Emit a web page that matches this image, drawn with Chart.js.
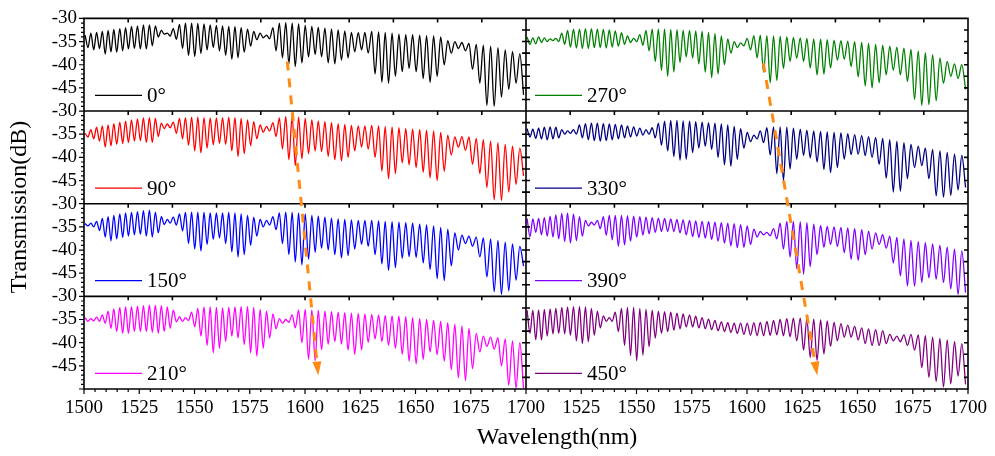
<!DOCTYPE html>
<html>
<head>
<meta charset="utf-8">
<title>Transmission spectra vs. twist angle</title>
<script src="https://cdn.jsdelivr.net/npm/chart.js@4.4.1/dist/chart.umd.min.js"></script>
<style>
  html, body { margin: 0; padding: 0; background: #fff; }
  #wrap { width: 995px; height: 456px; position: relative; }
</style>
</head>
<body>
<div id="wrap"><canvas id="spectra"></canvas></div>
<script>
// fringe extrema (nm): a peak then the following dip, shared by all traces
const PEAK_NM = [
  1500.5, 1503.1, 1505.7, 1508.3, 1510.9, 1513.5, 1516.2, 1518.8, 1521.5, 1524.2,
  1526.9, 1529.6, 1532.3, 1535.0, 1537.7, 1540.4, 1543.2, 1545.9, 1548.7, 1551.5,
  1554.3, 1557.1, 1559.9, 1562.7, 1565.5, 1568.3, 1571.1, 1574.0, 1576.8, 1579.7,
  1582.6, 1585.5, 1588.4, 1591.3, 1594.2, 1597.1, 1600.1, 1603.1, 1606.0, 1609.0,
  1612.0, 1615.0, 1618.0, 1621.0, 1624.1, 1627.1, 1630.2, 1633.3, 1636.3, 1639.4,
  1642.5, 1645.6, 1648.7, 1651.9, 1655.0, 1658.2, 1661.4, 1664.6, 1667.8, 1671.0,
  1674.2, 1677.5, 1680.7, 1684.0, 1687.3, 1690.6, 1693.9, 1697.2
];
const DIP_NM = [
  1501.8, 1504.4, 1507.0, 1509.6, 1512.2, 1514.8, 1517.5, 1520.1, 1522.8, 1525.5,
  1528.2, 1530.9, 1533.6, 1536.3, 1539.0, 1541.8, 1544.6, 1547.3, 1550.1, 1552.9,
  1555.7, 1558.5, 1561.3, 1564.1, 1566.9, 1569.7, 1572.5, 1575.4, 1578.2, 1581.1,
  1584.0, 1586.9, 1589.8, 1592.7, 1595.6, 1598.6, 1601.6, 1604.6, 1607.5, 1610.5,
  1613.5, 1616.5, 1619.5, 1622.5, 1625.6, 1628.6, 1631.7, 1634.8, 1637.8, 1640.9,
  1644.0, 1647.1, 1650.3, 1653.5, 1656.6, 1659.8, 1663.0, 1666.2, 1669.4, 1672.6,
  1675.8, 1679.1, 1682.3, 1685.6, 1688.9, 1692.2, 1695.5, 1698.9
];

// transmission (dB) at each peak / dip
const top0 = [
  -33.6, -33.2, -33.0, -32.8, -32.6, -32.4, -32.2, -32.0, -31.7, -31.6,
  -31.4, -31.4, -31.6, -32.6, -33.2, -32.2, -31.3, -31.0, -31.0, -31.1,
  -31.2, -31.4, -31.5, -31.6, -31.7, -31.8, -32.0, -32.3, -32.8, -33.2,
  -33.6, -32.0, -31.0, -30.9, -31.0, -31.2, -31.5, -31.7, -31.9, -32.1,
  -32.3, -32.5, -32.7, -33.0, -33.1, -33.0, -32.8, -32.9, -33.0, -33.2,
  -33.4, -33.5, -33.5, -33.6, -33.7, -33.8, -34.0, -34.8, -35.0, -35.2,
  -35.4, -35.6, -35.8, -36.0, -36.3, -36.8, -37.2, -37.6
];
const dip0 = [
  -36.3, -36.8, -36.5, -37.7, -37.2, -37.3, -37.0, -36.6, -36.5, -36.6,
  -36.6, -35.9, -34.0, -33.4, -33.8, -34.5, -36.5, -38.0, -38.2, -37.6,
  -36.8, -36.3, -37.0, -38.0, -38.8, -38.5, -37.3, -36.0, -34.6, -34.2,
  -34.4, -37.0, -38.5, -39.8, -40.4, -39.6, -38.3, -37.8, -38.3, -39.6,
  -39.8, -39.0, -38.5, -37.2, -36.8, -37.5, -42.0, -43.8, -44.0, -42.5,
  -41.5, -40.8, -41.5, -43.0, -43.8, -42.5, -40.0, -37.5, -36.5, -37.0,
  -41.0, -44.0, -48.8, -49.0, -47.0, -45.3, -44.0, -46.5
];
const top90 = [
  -34.8, -34.0, -33.5, -33.2, -33.0, -32.7, -32.4, -32.2, -31.9, -31.7,
  -31.5, -31.4, -31.6, -32.6, -32.8, -32.4, -31.6, -31.4, -31.3, -31.3,
  -31.4, -31.5, -31.5, -31.4, -31.3, -31.4, -31.6, -31.9, -32.3, -33.0,
  -33.3, -32.5, -31.5, -31.2, -31.1, -31.3, -31.6, -31.9, -32.1, -32.3,
  -32.5, -32.7, -32.9, -33.1, -33.2, -33.2, -33.1, -33.2, -33.3, -33.4,
  -33.6, -33.8, -33.9, -34.0, -34.1, -34.3, -34.6, -35.2, -35.6, -35.5,
  -35.6, -35.9, -36.2, -36.5, -36.8, -37.2, -37.6, -38.0
];
const dip90 = [
  -35.6, -36.0, -36.5, -37.8, -37.5, -37.2, -37.0, -36.8, -36.5, -36.4,
  -36.8, -36.8, -35.5, -33.8, -33.6, -34.8, -36.0, -37.4, -38.6, -39.0,
  -38.0, -37.3, -37.0, -37.2, -38.6, -39.8, -39.2, -37.5, -36.0, -34.6,
  -34.3, -35.5, -38.2, -40.5, -41.8, -40.3, -39.2, -38.6, -38.8, -39.8,
  -40.5, -40.8, -40.0, -38.6, -37.8, -38.2, -40.0, -43.0, -44.6, -43.5,
  -41.2, -41.6, -42.2, -43.2, -44.4, -45.0, -43.0, -39.5, -37.8, -38.5,
  -41.5, -43.5, -46.5, -49.2, -49.3, -47.5, -45.8, -44.0
];
const top150 = [
  -34.3, -34.2, -33.8, -33.2, -32.8, -32.5, -32.2, -32.0, -31.9, -31.7,
  -31.5, -31.4, -31.8, -32.8, -33.4, -32.9, -32.2, -31.9, -31.8, -31.8,
  -31.9, -32.0, -32.0, -32.0, -31.9, -32.0, -32.2, -32.5, -32.9, -33.4,
  -33.6, -32.8, -32.0, -31.8, -31.9, -32.0, -32.2, -32.5, -32.7, -32.9,
  -33.1, -33.3, -33.4, -33.5, -33.6, -33.6, -33.6, -33.7, -33.8, -33.9,
  -34.0, -34.1, -34.2, -34.4, -34.6, -34.8, -35.1, -35.5, -36.3, -36.8,
  -37.0, -37.2, -37.4, -37.6, -37.9, -38.3, -38.7, -39.2
];
const dip150 = [
  -34.8, -35.0, -35.8, -37.2, -38.0, -37.6, -37.3, -37.0, -36.7, -36.6,
  -37.0, -37.2, -36.3, -34.5, -34.2, -34.6, -35.9, -38.6, -39.8, -40.2,
  -38.8, -37.7, -37.4, -38.6, -40.4, -41.5, -41.0, -39.0, -37.0, -35.0,
  -34.6, -35.6, -38.6, -41.0, -42.6, -43.2, -42.0, -40.5, -39.6, -40.0,
  -41.0, -41.7, -41.2, -39.8, -38.8, -39.2, -41.0, -43.0, -44.4, -43.8,
  -41.8, -41.4, -41.6, -42.8, -44.2, -46.2, -46.6, -43.4, -40.0, -38.6,
  -39.2, -41.5, -45.8, -49.0, -49.6, -48.8, -46.5, -43.5
];
const top210 = [
  -34.6, -34.8, -34.5, -34.0, -33.2, -32.7, -32.4, -32.3, -32.2, -32.1,
  -32.0, -31.9, -31.9, -32.0, -32.3, -33.0, -34.4, -34.6, -33.4, -32.6,
  -32.3, -32.3, -32.4, -32.5, -32.4, -32.3, -32.2, -32.2, -32.4, -32.8,
  -33.2, -33.8, -34.8, -35.0, -34.0, -33.0, -32.8, -32.9, -33.0, -33.2,
  -33.3, -33.4, -33.5, -33.6, -33.7, -33.8, -33.9, -34.0, -34.1, -34.2,
  -34.3, -34.4, -34.6, -34.8, -35.0, -35.2, -35.4, -35.7, -36.0, -36.4,
  -36.9, -38.0, -38.6, -38.8, -38.9, -39.2, -39.6, -40.0
];
const dip210 = [
  -35.4, -35.3, -35.4, -35.8, -36.9, -37.6, -38.0, -38.0, -37.6, -37.6,
  -37.6, -37.8, -38.0, -37.6, -36.9, -35.5, -35.4, -35.2, -36.6, -38.6,
  -40.6, -42.2, -41.2, -39.7, -38.6, -39.0, -40.4, -42.2, -42.9, -41.2,
  -39.0, -37.0, -35.8, -35.6, -36.8, -40.0, -43.6, -43.9, -41.5, -40.3,
  -39.8, -40.3, -41.6, -42.5, -41.6, -40.0, -39.2, -39.8, -40.6, -41.2,
  -42.5, -44.0, -44.6, -43.6, -42.0, -42.6, -44.0, -45.8, -47.6, -48.2,
  -45.6, -42.0, -40.8, -41.4, -45.0, -49.2, -49.8, -49.9
];
const top270 = [
  -34.0, -34.2, -34.0, -34.2, -34.4, -34.3, -33.2, -32.6, -32.4, -32.3,
  -32.2, -32.2, -32.3, -32.4, -32.5, -32.7, -33.1, -33.8, -34.3, -33.5,
  -32.6, -32.3, -32.3, -32.3, -32.4, -32.5, -32.6, -32.6, -32.7, -32.8,
  -33.0, -33.3, -33.8, -34.4, -35.0, -35.3, -34.3, -33.7, -33.6, -33.7,
  -33.8, -33.9, -34.0, -34.1, -34.2, -34.3, -34.4, -34.5, -34.6, -34.7,
  -34.8, -34.9, -35.0, -35.2, -35.4, -35.6, -35.8, -36.0, -36.2, -36.4,
  -36.7, -37.0, -37.4, -37.8, -38.6, -39.3, -39.8, -40.0
];
const dip270 = [
  -35.6, -35.5, -35.2, -35.0, -34.8, -35.0, -35.6, -36.2, -36.4, -36.5,
  -36.5, -36.3, -36.3, -36.4, -36.2, -36.0, -35.6, -35.2, -35.0, -35.8,
  -37.0, -39.3, -41.2, -42.5, -41.6, -39.5, -38.3, -38.6, -39.8, -41.6,
  -42.8, -42.0, -40.0, -37.5, -36.3, -35.9, -36.8, -38.5, -41.6, -43.9,
  -43.4, -40.8, -39.3, -38.6, -39.3, -40.7, -42.2, -42.0, -40.7, -39.0,
  -38.8, -40.4, -42.6, -44.6, -45.0, -43.9, -42.2, -41.2, -42.2, -43.6,
  -47.5, -48.8, -48.6, -47.8, -44.0, -42.5, -43.0, -45.3
];
const top330 = [
  -33.8, -33.9, -33.7, -33.5, -33.4, -33.5, -34.0, -34.3, -34.0, -33.0,
  -32.7, -32.6, -32.6, -32.7, -32.8, -32.9, -33.0, -33.2, -33.4, -33.7,
  -34.0, -33.6, -32.6, -32.2, -32.0, -32.0, -32.1, -32.2, -32.3, -32.4,
  -32.5, -32.6, -32.8, -33.0, -33.3, -33.8, -34.6, -35.2, -34.3, -33.6,
  -33.4, -33.4, -33.5, -33.7, -33.9, -34.1, -34.3, -34.4, -34.5, -34.6,
  -34.7, -34.9, -35.1, -35.3, -35.5, -35.7, -35.9, -36.2, -36.5, -36.8,
  -37.2, -37.6, -38.0, -38.3, -38.6, -38.9, -39.3, -39.6
];
const dip330 = [
  -35.6, -35.9, -36.0, -36.2, -36.0, -35.8, -35.0, -34.8, -35.0, -35.8,
  -36.2, -36.4, -36.5, -36.4, -36.2, -36.0, -35.8, -35.6, -35.4, -35.2,
  -35.0, -35.8, -37.4, -38.6, -39.8, -40.6, -40.4, -39.0, -38.0, -37.6,
  -38.3, -40.0, -41.6, -41.9, -40.4, -38.0, -36.6, -36.0, -36.8, -39.5,
  -43.5, -45.0, -42.5, -40.4, -39.6, -40.1, -41.0, -42.6, -43.3, -42.2,
  -40.4, -39.4, -39.3, -39.6, -40.0, -41.5, -44.5, -47.5, -47.3, -44.6,
  -42.2, -41.8, -44.6, -48.3, -48.6, -48.2, -47.0, -46.5
];
const top390 = [
  -33.2, -33.3, -33.2, -33.0, -32.7, -32.4, -32.1, -32.0, -32.2, -32.8,
  -33.6, -34.0, -33.6, -32.8, -32.5, -32.5, -32.5, -32.6, -32.7, -32.8,
  -32.9, -33.0, -33.1, -33.2, -33.3, -33.4, -33.5, -33.6, -33.7, -33.8,
  -33.9, -34.0, -34.1, -34.2, -34.3, -34.5, -34.8, -35.5, -36.0, -36.2,
  -35.4, -34.2, -33.8, -33.8, -33.9, -34.1, -34.4, -34.7, -34.9, -35.0,
  -35.1, -35.2, -35.4, -35.6, -35.9, -36.3, -36.7, -37.0, -37.3, -37.6,
  -37.9, -38.2, -38.4, -38.7, -39.0, -39.4, -39.8, -40.2
];
const dip390 = [
  -37.1, -36.2, -36.7, -37.0, -37.2, -37.6, -38.2, -38.5, -38.0, -37.0,
  -34.8, -34.6, -35.4, -36.8, -37.8, -39.2, -38.9, -38.1, -37.2, -36.8,
  -36.5, -36.2, -36.0, -36.0, -36.0, -36.3, -36.7, -37.1, -37.3, -37.4,
  -37.7, -38.1, -38.5, -39.1, -39.5, -39.4, -38.8, -37.2, -36.7, -36.9,
  -37.6, -39.8, -41.5, -44.0, -45.2, -43.6, -41.0, -39.4, -38.8, -39.2,
  -40.6, -42.0, -42.2, -41.0, -39.8, -38.8, -39.6, -42.8, -45.6, -47.8,
  -47.8, -47.0, -46.0, -46.3, -47.0, -48.4, -49.6, -49.2
];
const top450 = [
  -33.0, -33.0, -32.9, -32.8, -32.7, -32.6, -32.4, -32.3, -32.2, -32.2,
  -32.3, -32.6, -33.2, -34.2, -34.6, -33.4, -32.6, -32.4, -32.4, -32.6,
  -32.8, -33.0, -33.2, -33.3, -33.4, -33.6, -33.8, -34.0, -34.3, -34.6,
  -34.9, -35.2, -35.5, -35.7, -35.8, -35.8, -35.8, -35.7, -35.6, -35.4,
  -35.2, -35.0, -34.8, -34.7, -34.7, -34.8, -34.9, -35.1, -35.3, -35.6,
  -35.9, -36.2, -36.5, -36.8, -37.0, -37.2, -37.4, -38.2, -38.6, -38.3,
  -38.2, -38.3, -38.5, -38.8, -39.1, -39.4, -39.8, -40.2
];
const dip450 = [
  -38.0, -39.4, -39.4, -38.6, -38.1, -38.0, -38.1, -38.4, -39.6, -40.2,
  -39.8, -38.4, -36.8, -35.4, -35.4, -37.6, -40.6, -42.8, -43.9, -42.7,
  -40.9, -39.0, -38.0, -37.6, -37.3, -37.0, -36.6, -36.6, -36.8, -37.0,
  -37.2, -37.4, -37.6, -37.8, -38.0, -38.2, -38.4, -38.5, -38.5, -38.4,
  -38.3, -38.5, -38.7, -39.6, -41.6, -43.2, -43.8, -42.4, -40.8, -39.6,
  -38.8, -38.8, -39.4, -40.2, -40.6, -40.6, -40.2, -39.6, -39.8, -40.6,
  -41.6, -45.4, -47.5, -48.4, -49.6, -48.9, -47.2, -49.0
];

const ANGLE_LABELS = ["0°", "90°", "150°", "210°", "270°", "330°", "390°", "450°"];
const COLORS = ["#000000", "#ff0000", "#0000ff", "#ff00ff", "#008000", "#000080", "#8000ff", "#800080"];
const SERIES = [
  [top0, dip0], [top90, dip90], [top150, dip150], [top210, dip210],
  [top270, dip270], [top330, dip330], [top390, dip390], [top450, dip450]
];

// dip-shift guides: [wavelength, dB, row] at tail and head
const SHIFT_ARROWS = [
  { col: 0, tail: [1592, -39.3, 0], head: [1606, -47.1, 3] },
  { col: 1, tail: [1607.4, -39.7, 0], head: [1631.8, -47.1, 3] }
];
const ORANGE = "#ff8a14";

const SERIF = "'Liberation Serif', 'Times New Roman', serif";
Chart.defaults.font.family = SERIF;
Chart.defaults.color = "#000";

function spectrum(tops, dips) {
  const pts = [];
  PEAK_NM.forEach((nm, k) => {
    pts.push({ x: nm, y: tops[k] });
    pts.push({ x: DIP_NM[k], y: dips[k] });
  });
  return pts;
}

function rowScale(row) {
  return {
    type: "linear", axis: "y", position: "left",
    stack: "rows", stackWeight: 1, weight: 4 - row,
    min: -50, max: -30,
    grid: { display: false, drawTicks: false },
    border: { display: false },
    ticks: {
      stepSize: 5, padding: 7, autoSkip: false,
      font: { size: 19 },
      callback: v => (v === -50 ? "" : v)
    },
    afterFit: s => { s.width = 84; }
  };
}

function colScale(col) {
  return {
    type: "linear", axis: "x", position: "bottom",
    stack: "cols", stackWeight: 1,
    min: 1500, max: 1700,
    grid: { display: false, drawTicks: false },
    border: { display: false },
    ticks: {
      stepSize: 25, padding: 8, autoSkip: false, maxRotation: 0,
      font: { size: 19 },
      callback: v => (col === 1 && v === 1500 ? "" : v)
    },
    afterFit: s => { s.height = 67; }
  };
}

// frames, tick marks, legends, axis titles and the shift arrows
const panelDecor = {
  id: "panelDecor",
  afterDatasetsDraw(chart) {
    const { ctx } = chart;
    const cols = [chart.scales.xL, chart.scales.xR];
    const rows = ["y0", "y1", "y2", "y3"].map(id => chart.scales[id]);
    ctx.save();

    ctx.strokeStyle = "#000";
    ctx.lineWidth = 1.6;
    ctx.beginPath();
    cols.forEach((xs, c) => rows.forEach(ys => {
      ctx.rect(xs.left, ys.top, xs.right - xs.left, ys.bottom - ys.top);
      for (let v = 1520; v < 1700; v += 20) {
        const x = xs.getPixelForValue(v);
        ctx.moveTo(x, ys.top);
        ctx.lineTo(x, ys.top + 4);
      }
      for (let v = -47.5; v <= -32.5; v += 2.5) {
        const y = ys.getPixelForValue(v);
        if (c === 1) {
          ctx.moveTo(xs.left, y);
          ctx.lineTo(xs.left + 4, y);
        }
        ctx.moveTo(xs.right, y);
        ctx.lineTo(xs.right - 4, y);
      }
    }));
    ctx.stroke();

    ctx.lineWidth = 1.2;
    ctx.beginPath();
    rows.forEach(ys => {
      for (let v = -50; v <= -30; v++) {
        const y = ys.getPixelForValue(v);
        const len = v % 5 === 0 ? 5 : 3;
        ctx.moveTo(cols[0].left - len, y);
        ctx.lineTo(cols[0].left, y);
      }
    });
    const base = rows[3].bottom;
    cols.forEach(xs => {
      for (let v = 1500; v <= 1700; v += 5) {
        const x = xs.getPixelForValue(v);
        const len = v % 25 === 0 ? 5 : 3;
        ctx.moveTo(x, base);
        ctx.lineTo(x, base + len);
      }
    });
    ctx.stroke();

    // legend sample + angle in the lower-left of every panel
    ctx.font = "21px " + SERIF;
    ctx.textAlign = "left";
    ctx.textBaseline = "middle";
    chart.data.datasets.forEach(ds => {
      const xs = chart.scales[ds.xAxisID];
      const ys = chart.scales[ds.yAxisID];
      const x0 = xs.left + (ds.xAxisID === "xL" ? 11 : 9);
      const y = ys.top + 77;
      ctx.strokeStyle = ds.borderColor;
      ctx.lineWidth = 1.3;
      ctx.beginPath();
      ctx.moveTo(x0, y);
      ctx.lineTo(x0 + 47, y);
      ctx.stroke();
      ctx.fillStyle = "#000";
      ctx.fillText(ds.label, x0 + 52, y + 1);
    });

    SHIFT_ARROWS.forEach(a => {
      const xs = cols[a.col];
      const x1 = xs.getPixelForValue(a.tail[0]);
      const y1 = rows[a.tail[2]].getPixelForValue(a.tail[1]);
      const x2 = xs.getPixelForValue(a.head[0]);
      const y2 = rows[a.head[2]].getPixelForValue(a.head[1]);
      const ang = Math.atan2(y2 - y1, x2 - x1);
      const bx = x2 - 14 * Math.cos(ang);
      const by = y2 - 14 * Math.sin(ang);
      ctx.strokeStyle = ORANGE;
      ctx.fillStyle = ORANGE;
      ctx.lineWidth = 3;
      ctx.setLineDash([9, 8]);
      ctx.beginPath();
      ctx.moveTo(x1, y1);
      ctx.lineTo(bx, by);
      ctx.stroke();
      ctx.setLineDash([]);
      ctx.beginPath();
      ctx.moveTo(x2, y2);
      ctx.lineTo(bx + 4.5 * Math.sin(ang), by - 4.5 * Math.cos(ang));
      ctx.lineTo(bx - 4.5 * Math.sin(ang), by + 4.5 * Math.cos(ang));
      ctx.closePath();
      ctx.fill();
    });

    ctx.fillStyle = "#000";
    ctx.font = "24px " + SERIF;
    ctx.textAlign = "center";
    ctx.textBaseline = "middle";
    ctx.fillText("Wavelength(nm)", 557, 438);
    ctx.translate(20, 207);
    ctx.rotate(-Math.PI / 2);
    ctx.fillText("Transmission(dB)", 0, 0);
    ctx.restore();
  }
};

const datasets = SERIES.map(([tops, dips], i) => ({
  label: ANGLE_LABELS[i],
  data: spectrum(tops, dips),
  borderColor: COLORS[i],
  borderWidth: 1.3,
  pointRadius: 0,
  cubicInterpolationMode: "monotone",
  xAxisID: i < 4 ? "xL" : "xR",
  yAxisID: "y" + (i % 4)
}));

new Chart(document.getElementById("spectra"), {
  type: "line",
  data: { datasets },
  options: {
    animation: false,
    maintainAspectRatio: false,
    layout: { padding: { top: 11, right: 24, bottom: 0, left: 0 } },
    scales: {
      xL: colScale(0),
      xR: colScale(1),
      y0: rowScale(0),
      y1: rowScale(1),
      y2: rowScale(2),
      y3: rowScale(3)
    },
    plugins: {
      legend: { display: false },
      tooltip: { enabled: false }
    }
  },
  plugins: [panelDecor]
});
</script>
</body>
</html>
